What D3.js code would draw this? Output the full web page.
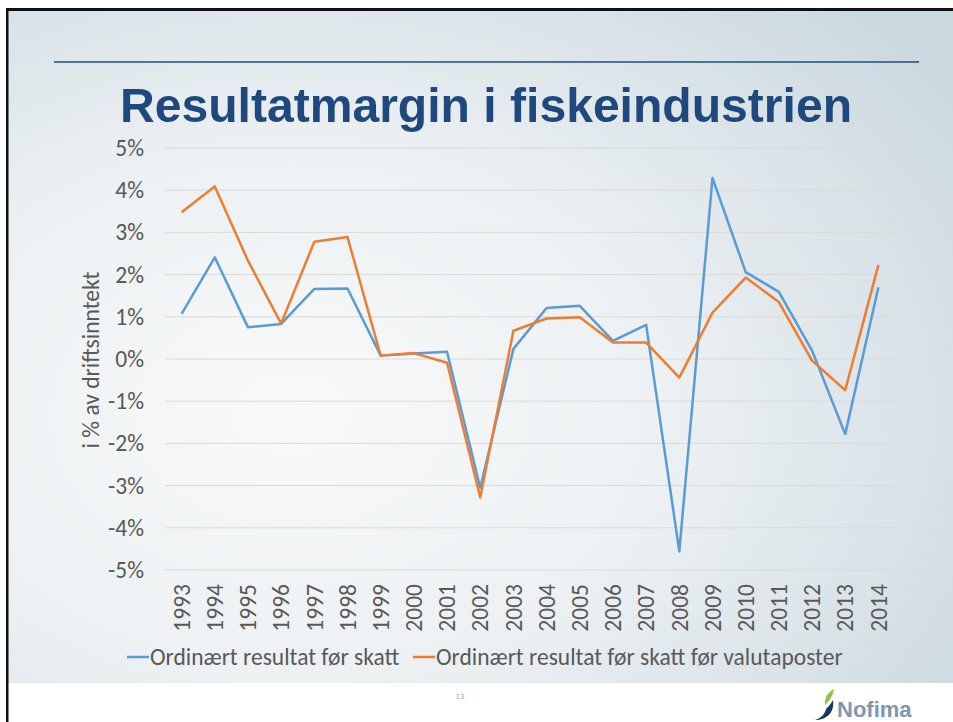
<!DOCTYPE html>
<html>
<head>
<meta charset="utf-8">
<script src="https://cdn.jsdelivr.net/npm/d3@7"></script>
<style>
  body { margin: 0; background: #fff; }
  svg { display: block; }
</style>
</head>
<body>
<svg id="chart" width="953" height="722"></svg>
<script>
// data
const years = ["1993","1994","1995","1996","1997","1998","1999","2000","2001","2002","2003",
               "2004","2005","2006","2007","2008","2009","2010","2011","2012","2013","2014"];
const forSkatt = [1.07, 2.41, 0.75, 0.83, 1.66, 1.67, 0.08, 0.13, 0.17, -3.05, 0.24,
                  1.21, 1.26, 0.43, 0.81, -4.56, 4.29, 2.06, 1.59, 0.20, -1.78, 1.70];
const forValuta = [3.48, 4.09, 2.33, 0.84, 2.78, 2.89, 0.08, 0.14, -0.09, -3.28, 0.67,
                   0.96, 0.99, 0.39, 0.39, -0.44, 1.10, 1.93, 1.35, -0.04, -0.74, 2.23];
const yTicks = [-5, -4, -3, -2, -1, 0, 1, 2, 3, 4, 5];
const seriesNames = ["Ordinært resultat før skatt", "Ordinært resultat før skatt før valutaposter"];
const seriesColors = ["#5b9bd5", "#ed7d31"];

const svg = d3.select("#chart");
const font = "Calibri, Carlito, 'Open Sans', sans-serif";
const fs = "23.5px";

// slide background
const defs = svg.append("defs");
const grad = defs.append("radialGradient")
    .attr("id", "bg")
    .attr("cx", "0.3").attr("cy", "0.6").attr("r", "0.85");
grad.append("stop").attr("offset", "0").attr("stop-color", "#f8f9fa");
grad.append("stop").attr("offset", "0.45").attr("stop-color", "#edf1f3");
grad.append("stop").attr("offset", "1").attr("stop-color", "#cbd9e0");

svg.append("rect").attr("x", 8).attr("y", 11).attr("width", 945).attr("height", 672)
    .attr("fill", "url(#bg)");
// frame
svg.append("rect").attr("x", 6).attr("y", 8).attr("width", 947).attr("height", 3).attr("fill", "#111");
svg.append("rect").attr("x", 6).attr("y", 8).attr("width", 2.5).attr("height", 714).attr("fill", "#111");

// header rule and title
svg.append("line").attr("x1", 54).attr("x2", 919).attr("y1", 62).attr("y2", 62)
    .attr("stroke", "#1f4e79").attr("stroke-width", 1.5);
svg.append("text")
    .attr("x", 120).attr("y", 122)
    .attr("textLength", 732).attr("lengthAdjust", "spacingAndGlyphs")
    .style("font-family", "'Liberation Sans', Arial, sans-serif")
    .style("font-weight", "bold").style("font-size", "48px")
    .style("fill", "#1f497d")
    .text("Resultatmargin i fiskeindustrien");

// scales
const x = d3.scaleBand().domain(years).range([165, 895]);
const y = d3.scaleLinear().domain([-5, 5]).range([570, 148]);

// gridlines
svg.append("g")
    .selectAll("line")
    .data(yTicks)
    .join("line")
    .attr("x1", 165).attr("x2", 895)
    .attr("y1", d => y(d)).attr("y2", d => y(d))
    .attr("stroke", "#d9d9d9").attr("stroke-width", 1);

// y axis labels
const yAxis = svg.append("g")
    .attr("transform", "translate(165,0)")
    .call(d3.axisLeft(y).tickValues(yTicks).tickSize(0).tickPadding(21)
        .tickFormat(d => (d < 0 ? "-" : "") + Math.abs(d) + "%"));
yAxis.select(".domain").remove();
yAxis.selectAll("text")
    .style("font-family", font).style("font-size", fs).style("fill", "#595959");

// x axis labels (rotated)
const xAxis = svg.append("g")
    .attr("transform", "translate(0,570)")
    .call(d3.axisBottom(x).tickSize(0));
xAxis.select(".domain").remove();
xAxis.selectAll("text")
    .attr("transform", "rotate(-90)")
    .attr("x", -14).attr("y", 0).attr("dy", "0.35em")
    .style("text-anchor", "end")
    .style("font-family", font).style("font-size", fs).style("fill", "#595959");

// y axis title
svg.append("text")
    .attr("transform", "translate(99,360) rotate(-90)")
    .style("text-anchor", "middle")
    .style("font-family", font).style("font-size", fs).style("fill", "#595959")
    .text("i % av driftsinntekt");

// lines
const line = d3.line()
    .x((d, i) => x(years[i]) + x.bandwidth() / 2)
    .y(d => y(d));

[forSkatt, forValuta].forEach((vals, k) => {
    svg.append("path")
        .datum(vals)
        .attr("fill", "none")
        .attr("stroke", seriesColors[k])
        .attr("stroke-width", 2.5)
        .attr("stroke-linejoin", "round")
        .attr("d", line);
});

// legend
const legendX = [127, 413];
seriesNames.forEach((name, k) => {
    const g = svg.append("g").attr("transform", "translate(" + legendX[k] + ",657)");
    g.append("line").attr("x1", 0).attr("x2", 22).attr("y1", 0).attr("y2", 0)
        .attr("stroke", seriesColors[k]).attr("stroke-width", 2.5);
    g.append("text").attr("x", 23).attr("y", 0).attr("dy", "0.35em")
        .style("font-family", font).style("font-size", fs).style("fill", "#595959")
        .text(name);
});

// page number
svg.append("text")
    .attr("x", 460).attr("y", 699)
    .style("text-anchor", "middle")
    .style("font-family", "'Liberation Sans', Arial, sans-serif")
    .style("font-size", "8px").style("fill", "#a6a6a6")
    .text("13");

// Nofima logo
const logo = svg.append("g").attr("transform", "translate(815,686)");
logo.append("path")
    .attr("d", "M19,3 C13,6 9,12 10,19 C14,15 18,10 19,3 Z")
    .attr("fill", "#8dc63f");
logo.append("path")
    .attr("d", "M0,34 C11,34 20,27 18,14 C16,18 13,21 11,23 C10,28 6,32 0,34 Z")
    .attr("fill", "#17375e");
logo.append("text")
    .attr("x", 22).attr("y", 31)
    .style("font-family", "'Liberation Sans', Arial, sans-serif")
    .style("font-weight", "bold").style("font-size", "22px")
    .style("fill", "#7f97ad")
    .text("Nofima");
</script>
</body>
</html>
